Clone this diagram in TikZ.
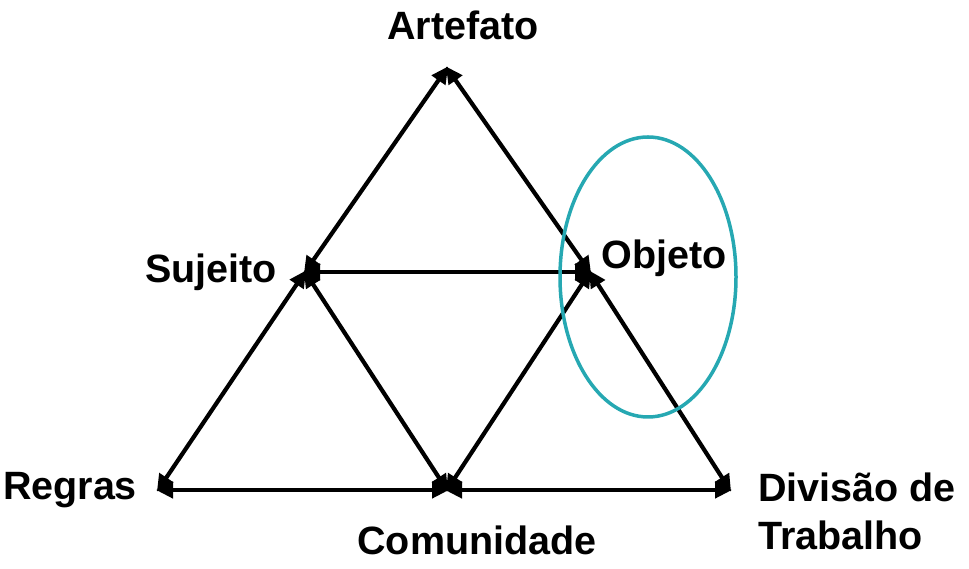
\documentclass[tikz,border=0pt]{standalone}
\usepackage{fontspec}
\setmainfont{Liberation Sans}
\usetikzlibrary{arrows.meta,shapes.geometric}
\definecolor{ovalteal}{RGB}{38,168,178}
\begin{document}
\begin{tikzpicture}[x=1pt,y=1pt,
  lbl/.style={font=\fontsize{39.5}{44}\selectfont\bfseries, inner sep=0pt},
  link/.style={line width=4.2pt, {Triangle[length=17pt,width=16pt]}-{Triangle[length=17pt,width=16pt]}, shorten <=-2pt, shorten >=-2pt}]
\useasboundingbox (0,0) rectangle (969,569);
\coordinate (A) at (447,501);
\coordinate (S) at (305,297);
\coordinate (O) at (590,297);
\coordinate (R) at (158,79);
\coordinate (C) at (447,79);
\coordinate (D) at (730,79);
\draw[link] (S) -- (A);
\draw[link] (A) -- (O);
\draw[link] (S) -- (O);
\draw[link] (R) -- (S);
\draw[link] (S) -- (C);
\draw[link] (C) -- (O);
\draw[link] (O) -- (D);
\draw[link] (R) -- (C);
\draw[link] (C) -- (D);
\node[draw=ovalteal, line width=3.5pt, ellipse, minimum width=176pt, minimum height=280pt, inner sep=0pt] (E) at (648,292) {};
\node[lbl] (tA) at (463,544) {Artefato};
\node[lbl] (tS) at (211,297) {Sujeito};
\node[lbl] (tO) at (664,311) {Objeto};
\node[lbl] (tR) at (70,79) {Regras};
\node[lbl] (tC) at (477,29) {Comunidade};
\node[lbl, anchor=west, align=left, font=\fontsize{39.5}{48}\selectfont\bfseries] (tD) at (758,58) {Divisão de\\Trabalho};
\end{tikzpicture}
\end{document}
